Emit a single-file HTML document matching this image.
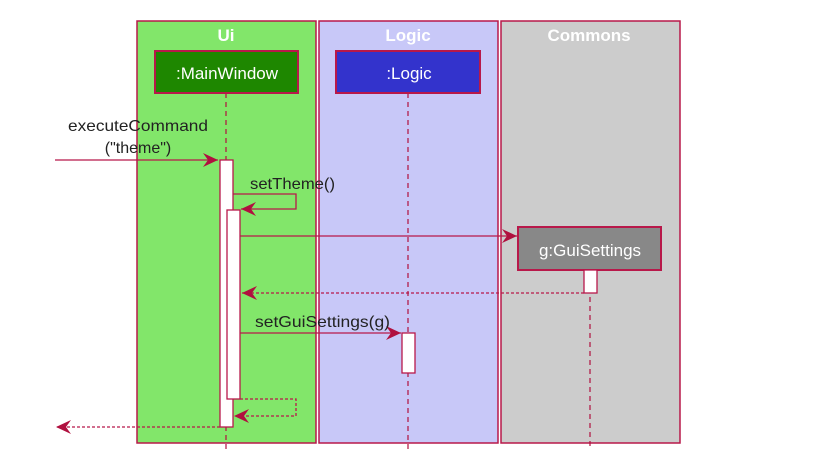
<!DOCTYPE html>
<html><head><style>body{margin:0;background:#fff}svg{display:block}text{font-family:"Liberation Sans",sans-serif}</style></head>
<body>
<svg width="827" height="457" viewBox="0 0 827 457" xmlns="http://www.w3.org/2000/svg">
<defs><marker id="a" markerWidth="16" markerHeight="14" refX="15" refY="7" orient="auto" markerUnits="userSpaceOnUse"><path d="M0,0 L15,7 L0,14 L5,7 Z" fill="#b0103f"/></marker></defs>
<g stroke="#b8184a" stroke-width="1.5">
<rect x="137" y="21" width="179" height="422" fill="#82e66a"/>
<rect x="319" y="21" width="179" height="422" fill="#c8c8f8"/>
<rect x="501" y="21" width="179" height="422" fill="#cccccc"/>
</g>
<g font-weight="bold" font-size="17" fill="#fff" text-anchor="middle">
<text x="226" y="41">Ui</text><text x="408" y="41">Logic</text><text x="589" y="41">Commons</text>
</g>
<g stroke="#b0103f" stroke-width="1.2" stroke-dasharray="5,4" fill="none">
<line x1="226" y1="93" x2="226" y2="450"/><line x1="408" y1="93" x2="408" y2="450"/><line x1="590" y1="270" x2="590" y2="450"/>
</g>
<g stroke="#b8184a" stroke-width="2">
<rect x="155" y="51" width="143" height="42" fill="#1e8700"/>
<rect x="336" y="51" width="144" height="42" fill="#3333cc"/>
<rect x="518" y="227" width="143" height="43" fill="#888"/>
</g>
<g fill="#fff" font-size="17" text-anchor="middle">
<text x="227" y="79">:MainWindow</text><text x="409" y="79">:Logic</text><text x="590" y="256">g:GuiSettings</text>
</g>
<g stroke="#b8184a" stroke-width="1.3" fill="#fff">
<rect x="220" y="160" width="13" height="267"/>
<rect x="227" y="210" width="13" height="189"/>
<rect x="584" y="270" width="13" height="23"/>
<rect x="402" y="333" width="13" height="40"/>
</g>
<g stroke="#b8184a" stroke-width="1.3" fill="none">
<line x1="55" y1="160" x2="218" y2="160" marker-end="url(#a)"/>
<polyline points="233,194 296,194 296,209 241,209" marker-end="url(#a)"/>
<line x1="240" y1="236" x2="517" y2="236" marker-end="url(#a)"/>
<line x1="240" y1="333" x2="401" y2="333" marker-end="url(#a)"/>
<g stroke-dasharray="3,2">
<line x1="584" y1="293" x2="242" y2="293" marker-end="url(#a)"/>
<polyline points="240,399 296,399 296,416 234,416" marker-end="url(#a)"/>
<line x1="220" y1="427" x2="56" y2="427" marker-end="url(#a)"/>
</g>
</g>
<g font-size="16" fill="#222">
<text x="138" y="131" text-anchor="middle" textLength="140" lengthAdjust="spacingAndGlyphs">executeCommand</text>
<text x="138" y="153" text-anchor="middle">("theme")</text>
<text x="250" y="189" textLength="85" lengthAdjust="spacingAndGlyphs">setTheme()</text>
<text x="255" y="327" textLength="135" lengthAdjust="spacingAndGlyphs">setGuiSettings(g)</text>
</g>
</svg>
</body></html>
